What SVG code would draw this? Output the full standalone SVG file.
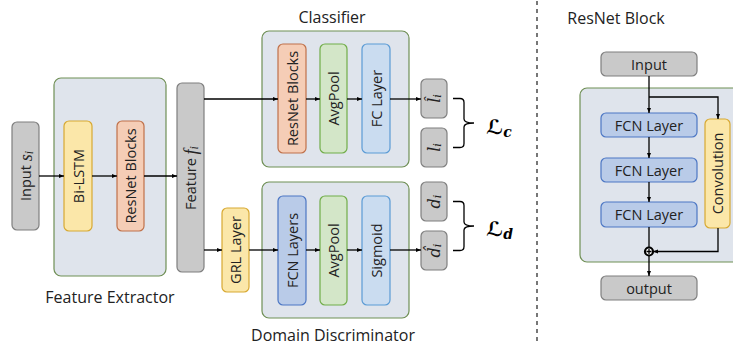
<svg xmlns="http://www.w3.org/2000/svg" width="733" height="347" viewBox="0 0 733 347">
<defs>
<marker id="ah" viewBox="0 0 10 10" refX="10" refY="5" markerWidth="5" markerHeight="5" orient="auto" markerUnits="userSpaceOnUse">
<path d="M0,1 L10,5 L0,9 z" fill="#000"/>
</marker>
<style>
.gray{fill:#c9c9c9;stroke:#7f7f7f;stroke-width:1.2}
.panel{fill:#dfe4ec;stroke:#6f8f55;stroke-width:1.2}
.yel{fill:#fbe7a9;stroke:#d8a932;stroke-width:1.2}
.peach{fill:#f5cdb6;stroke:#c0714a;stroke-width:1.2}
.green{fill:#d3e6c8;stroke:#71ad49;stroke-width:1.2}
.lblue{fill:#cadcf0;stroke:#5b9bd5;stroke-width:1.2}
.dblue{fill:#b9cbe8;stroke:#4d77c4;stroke-width:1.2}
.lbl{font-family:"Open Sans","Noto Sans",sans-serif;font-size:14.5px;fill:#222;text-anchor:middle;dominant-baseline:central}
.title{font-family:"Open Sans","Noto Sans",sans-serif;font-size:16px;fill:#222;text-anchor:middle}
.math{font-family:"DejaVu Serif","Liberation Serif",serif;font-style:italic;font-size:16px;fill:#222;text-anchor:middle;dominant-baseline:central}
.loss{font-family:"DejaVu Serif","DejaVu Sans",serif;font-style:italic;font-weight:bold;font-size:20px;fill:#000}
.ln{fill:none;stroke:#000;stroke-width:1.3}
.arr{fill:none;stroke:#000;stroke-width:1.3;marker-end:url(#ah)}
</style>
</defs>

<g id="input">
<rect class="gray" x="12" y="122" width="27" height="108" rx="5"/>
<text class="lbl" transform="translate(25.5,176) rotate(-90)">Input <tspan font-family="Liberation Serif,serif" font-style="italic" font-size="18">s</tspan><tspan font-family="Liberation Serif,serif" font-style="italic" font-size="12" dy="3">i</tspan></text>
</g>

<g id="feature-extractor">
<rect class="panel" x="54" y="78" width="112" height="198" rx="7"/>
<text class="title" x="110" y="303">Feature Extractor</text>
</g>
<g id="bilstm">
<rect class="yel" x="64" y="121" width="28" height="110" rx="5"/>
<text class="lbl" transform="translate(78,176) rotate(-90)">Bi-LSTM</text>
</g>
<g id="fe-resnet">
<rect class="peach" x="117" y="121" width="27" height="110" rx="5"/>
<text class="lbl" transform="translate(130.5,176) rotate(-90)">ResNet Blocks</text>
</g>

<g id="feature">
<rect class="gray" x="177" y="83" width="27" height="189" rx="5"/>
<text class="lbl" transform="translate(190.5,178) rotate(-90)">Feature <tspan font-family="Liberation Serif,serif" font-style="italic" font-size="18">f</tspan><tspan font-family="Liberation Serif,serif" font-style="italic" font-size="12" dy="3">i</tspan></text>
</g>

<g id="classifier">
<rect class="panel" x="262" y="31" width="147" height="136" rx="7"/>
<text class="title" x="332" y="23">Classifier</text>
</g>
<g id="cl-resnet">
<rect class="peach" x="278" y="44" width="28" height="109" rx="5"/>
<text class="lbl" transform="translate(292,98.5) rotate(-90)">ResNet Blocks</text>
</g>
<g id="cl-avgpool">
<rect class="green" x="320" y="44" width="27" height="109" rx="5"/>
<text class="lbl" transform="translate(333.5,98.5) rotate(-90)">AvgPool</text>
</g>
<g id="cl-fc">
<rect class="lblue" x="362" y="44" width="28" height="109" rx="5"/>
<text class="lbl" transform="translate(376,98.5) rotate(-90)">FC Layer</text>
</g>

<g id="grl">
<rect class="yel" x="222" y="208" width="27" height="84" rx="5"/>
<text class="lbl" transform="translate(235.5,250) rotate(-90)">GRL Layer</text>
</g>

<g id="discriminator">
<rect class="panel" x="262" y="182" width="147" height="136" rx="7"/>
<text class="title" x="333" y="341">Domain Discriminator</text>
</g>
<g id="dd-fcn">
<rect class="dblue" x="278" y="196" width="28" height="109" rx="5"/>
<text class="lbl" transform="translate(292,250.5) rotate(-90)">FCN Layers</text>
</g>
<g id="dd-avgpool">
<rect class="green" x="320" y="196" width="27" height="109" rx="5"/>
<text class="lbl" transform="translate(333.5,250.5) rotate(-90)">AvgPool</text>
</g>
<g id="dd-sigmoid">
<rect class="lblue" x="362" y="196" width="28" height="109" rx="5"/>
<text class="lbl" transform="translate(376,250.5) rotate(-90)">Sigmoid</text>
</g>

<g id="l-hat">
<rect class="gray" x="421" y="79" width="26" height="39" rx="5"/>
<text class="math" transform="translate(434,98.5) rotate(-90)">l&#770;<tspan font-size="11" dy="3">i</tspan></text>
</g>
<g id="l">
<rect class="gray" x="421" y="128" width="26" height="39" rx="5"/>
<text class="math" transform="translate(434,147.5) rotate(-90)">l<tspan font-size="11" dy="3">i</tspan></text>
</g>
<g id="d">
<rect class="gray" x="421" y="182" width="26" height="39" rx="5"/>
<text class="math" transform="translate(434,201.5) rotate(-90)">d<tspan font-size="11" dy="3">i</tspan></text>
</g>
<g id="d-hat">
<rect class="gray" x="421" y="231" width="26" height="39" rx="5"/>
<text class="math" transform="translate(434,250.5) rotate(-90)">d&#770;<tspan font-size="11" dy="3">i</tspan></text>
</g>

<g id="loss-c">
<path class="ln" d="M453,98.5 H460 Q464,98.5 464,102.5 V119 Q464,123 474,123 Q464,123 464,127 V143.5 Q464,147.5 460,147.5 H453"/>
<text class="loss" x="486" y="134">ℒ<tspan font-size="14" dy="3">c</tspan></text>
</g>
<g id="loss-d">
<path class="ln" d="M453,201.5 H460 Q464,201.5 464,205.5 V222 Q464,226 474,226 Q464,226 464,230 V246.5 Q464,250.5 460,250.5 H453"/>
<text class="loss" x="486" y="236">ℒ<tspan font-size="14" dy="3">d</tspan></text>
</g>

<g id="separator">
<line x1="537" y1="1" x2="537" y2="343" stroke="#555" stroke-width="1.6" stroke-dasharray="4,4"/>
</g>

<g id="resnet-block-panel">
<text class="title" x="616" y="24">ResNet Block</text>
<rect class="panel" x="580" y="88" width="165" height="174" rx="7"/>
</g>
<g id="rb-input">
<rect class="gray" x="601" y="52" width="96" height="24" rx="5"/>
<text class="lbl" x="649" y="64">Input</text>
</g>
<g id="rb-fcn1">
<rect class="dblue" x="601" y="113" width="96" height="24" rx="5"/>
<text class="lbl" x="649" y="125">FCN Layer</text>
</g>
<g id="rb-fcn2">
<rect class="dblue" x="601" y="158" width="96" height="24" rx="5"/>
<text class="lbl" x="649" y="170">FCN Layer</text>
</g>
<g id="rb-fcn3">
<rect class="dblue" x="601" y="202" width="96" height="25" rx="5"/>
<text class="lbl" x="649" y="214.5">FCN Layer</text>
</g>
<g id="rb-conv">
<rect class="yel" x="705" y="119" width="25" height="109" rx="5"/>
<text class="lbl" transform="translate(717.5,173.5) rotate(-90)">Convolution</text>
</g>
<g id="rb-output">
<rect class="gray" x="601" y="276" width="96" height="24" rx="5"/>
<text class="lbl" x="649" y="288">output</text>
</g>
<g id="rb-add">
<circle cx="649" cy="251.5" r="4" fill="#fff" stroke="#000" stroke-width="2.2"/>
<path d="M646.5,251.5 H651.5 M649,249 V254" stroke="#000" stroke-width="1.3"/>
</g>

<g id="connectors">
<line class="arr" x1="39" y1="176" x2="64" y2="176"/>
<line class="arr" x1="92" y1="176" x2="117" y2="176"/>
<line class="arr" x1="144" y1="176" x2="177" y2="176"/>
<line class="arr" x1="204" y1="99" x2="278" y2="99"/>
<line class="arr" x1="306" y1="99" x2="320" y2="99"/>
<line class="arr" x1="347" y1="99" x2="362" y2="99"/>
<line class="arr" x1="390" y1="99" x2="421" y2="99"/>
<line class="arr" x1="204" y1="250" x2="222" y2="250"/>
<line class="arr" x1="249" y1="250" x2="278" y2="250"/>
<line class="arr" x1="306" y1="250" x2="320" y2="250"/>
<line class="arr" x1="347" y1="250" x2="362" y2="250"/>
<line class="arr" x1="390" y1="250" x2="421" y2="250"/>
<line class="arr" x1="649" y1="76" x2="649" y2="113"/>
<polyline class="arr" points="649,97 718,97 718,119"/>
<line class="arr" x1="649" y1="137" x2="649" y2="158"/>
<line class="arr" x1="649" y1="182" x2="649" y2="202"/>
<line class="ln" x1="649" y1="227" x2="649" y2="247.5"/>
<polyline class="arr" points="718,228 718,251.5 653,251.5"/>
<line class="arr" x1="649" y1="255.5" x2="649" y2="276"/>
</g>
</svg>
